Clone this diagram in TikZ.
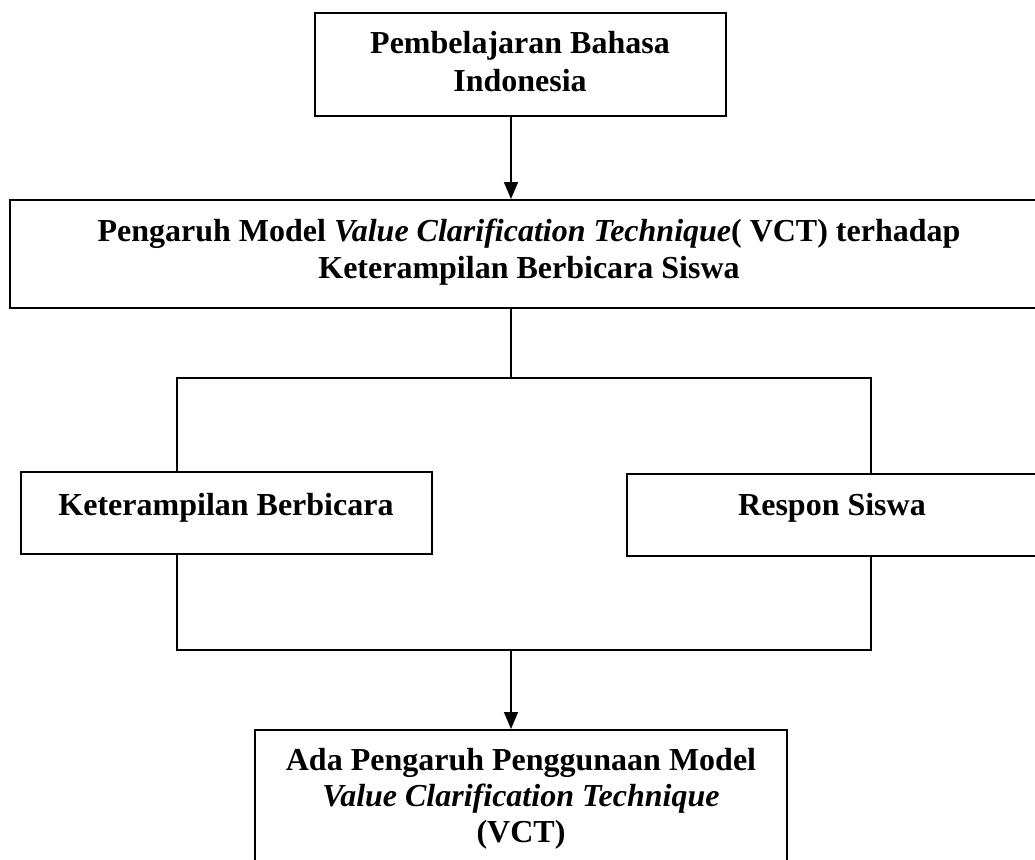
\documentclass[tikz,border=0pt]{standalone}
\usepackage{fontspec}
\setmainfont{Liberation Serif}
\usetikzlibrary{arrows.meta}
\begin{document}
\begin{tikzpicture}[x=0.5pt,y=-0.5pt,
  boxnode/.style={draw=black,line width=1pt,rectangle,inner sep=0pt,fill=white},
  lbl/.style={anchor=base,inner sep=0pt,font=\fontsize{16pt}{18.5pt}\selectfont\bfseries},
  conn/.style={draw=black,line width=0.8pt},
  arr/.style={conn,-{Triangle[length=8.5pt,width=7pt]}}]
\useasboundingbox (0,0) rectangle (1035,859);
\clip (0,0) rectangle (1035,859);
\fill[white] (0,0) rectangle (1035,859);
% boxes
\node[boxnode,minimum width=205.5pt,minimum height=51.5pt] (b1) at (520.5,64.5) {};
\node[boxnode,minimum width=519pt,minimum height=54pt] (b2) at (529,254) {};
\node[boxnode,minimum width=205.5pt,minimum height=41pt] (b3) at (226.5,513) {};
\node[boxnode,minimum width=205pt,minimum height=41pt] (b4) at (832,515) {};
\node[boxnode,minimum width=266pt,minimum height=75pt] (b5) at (521,805) {};
% texts
\node[lbl] (t1a) at (520,53) {Pembelajaran Bahasa};
\node[lbl] (t1b) at (520,91) {Indonesia};
\node[lbl] (t2a) at (529,241) {Pengaruh Model \textit{Value Clarification Technique}( VCT) terhadap};
\node[lbl] (t2b) at (529,278) {Keterampilan Berbicara Siswa};
\node[lbl] (t3) at (226,515) {Keterampilan Berbicara};
\node[lbl] (t4) at (832,515) {Respon Siswa};
\node[lbl] (t5a) at (521,770) {Ada Pengaruh Penggunaan Model};
\node[lbl] (t5b) at (521,806) {\textit{Value Clarification Technique}};
\node[lbl] (t5c) at (521,842) {(VCT)};
% connector coordinates
\coordinate (cx) at (511,0);
\coordinate (lx) at (177,0);
\coordinate (rx) at (871,0);
\coordinate (jt) at (511,378);
\coordinate (jtl) at (177,378);
\coordinate (jtr) at (871,378);
\coordinate (jb) at (511,650);
\coordinate (jbl) at (177,650);
\coordinate (jbr) at (871,650);
% connectors
\draw[arr] (b1.south -| cx) -- (b2.north -| cx);
\draw[conn] (b2.south -| cx) -- (jt);
\draw[conn] (b3.north -| lx) -- (jtl) -- (jtr) -- (b4.north -| rx);
\draw[conn] (b3.south -| lx) -- (jbl) -- (jbr) -- (b4.south -| rx);
\draw[arr] (jb) -- (b5.north -| cx);
\end{tikzpicture}
\end{document}
